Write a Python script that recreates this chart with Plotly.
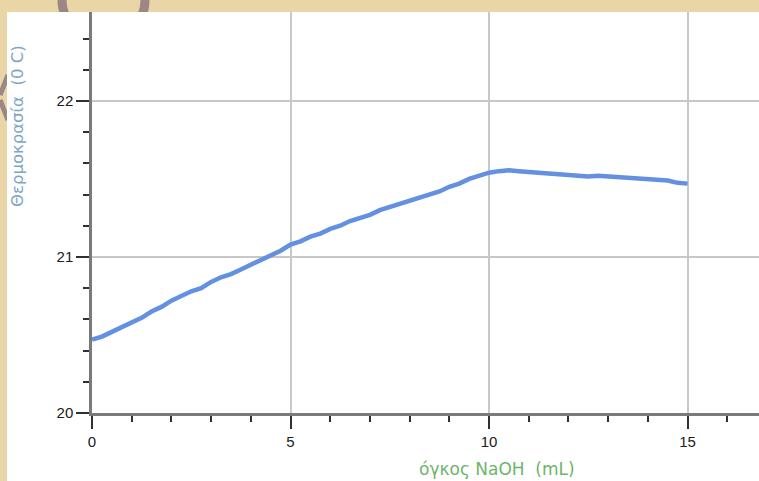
import plotly.graph_objects as go

# Data
volume_ml = [0.00, 0.25, 0.50, 0.75, 1.00, 1.25, 1.50, 1.75, 2.00, 2.25,
             2.50, 2.75, 3.00, 3.25, 3.50, 3.75, 4.00, 4.25, 4.50, 4.75,
             5.00, 5.25, 5.50, 5.75, 6.00, 6.25, 6.50, 6.75, 7.00, 7.25,
             7.50, 7.75, 8.00, 8.25, 8.50, 8.75, 9.00, 9.25, 9.50, 9.75,
             10.00, 10.25, 10.50, 10.75, 11.00, 11.25, 11.50, 11.75, 12.00, 12.25,
             12.50, 12.75, 13.00, 13.25, 13.50, 13.75, 14.00, 14.25, 14.50, 14.75,
             15.00]
temperature_c = [20.47, 20.49, 20.52, 20.55, 20.58, 20.61, 20.65, 20.68, 20.72, 20.75,
                 20.78, 20.80, 20.84, 20.87, 20.89, 20.92, 20.95, 20.98, 21.01, 21.04,
                 21.08, 21.10, 21.13, 21.15, 21.18, 21.20, 21.23, 21.25, 21.27, 21.30,
                 21.32, 21.34, 21.36, 21.38, 21.40, 21.42, 21.45, 21.47, 21.50, 21.52,
                 21.54, 21.55, 21.555, 21.55, 21.545, 21.54, 21.53, 21.525, 21.52, 21.52,
                 21.515, 21.52, 21.515, 21.51, 21.51, 21.505, 21.50, 21.495, 21.49, 21.475,
                 21.47]
x_tick_vals = [0, 5, 10, 15]
y_tick_vals = [20, 21, 22]
x_title = "όγκος NaOH  (mL)"
y_title = "Θερμοκρασία  (0 C)"

W, H = 759, 481
ML, MR, MT, MB = 92, 0, 12, 68
pw, ph = W - ML - MR, H - MT - MB

def px_x(p):
    return (p - ML) / pw

def px_y(p):
    return (H - MB - p) / ph

fig = go.Figure()
fig.add_trace(go.Scatter(
    x=volume_ml, y=temperature_c, mode="lines",
    line=dict(color="#6390e0", width=4.5),
    hoverinfo="skip", showlegend=False,
))

axis_common = dict(
    showline=True, linecolor="#7a7a7a", linewidth=2.5,
    ticks="outside", tickcolor="#303030", tickwidth=2, ticklen=13,
    showgrid=True, gridcolor="#c8c8c8", gridwidth=1.5,
    zeroline=False,
    tickfont=dict(family="Liberation Sans, Arial, sans-serif", size=15, color="#202020"),
)

fig.update_xaxes(range=[0, 16.8], tickvals=x_tick_vals,
                 minor=dict(dtick=1, ticks="outside", ticklen=6, tickwidth=2,
                            tickcolor="#303030", showgrid=False),
                 **axis_common)
fig.update_yaxes(range=[20, 22.57], tickvals=y_tick_vals,
                 minor=dict(dtick=0.2, ticks="outside", ticklen=6, tickwidth=2,
                            tickcolor="#303030", showgrid=False),
                 **axis_common)

shapes = [
    # decorative ring from the parchment background
    dict(type="circle", xref="paper", yref="paper",
         x0=px_x(62), x1=px_x(145), y0=px_y(40), y1=px_y(-40),
         line=dict(color="#9b8784", width=9), layer="below"),
    dict(type="line", xref="paper", yref="paper",
         x0=px_x(0), x1=px_x(8), y0=px_y(95), y1=px_y(75),
         line=dict(color="#9b8784", width=5), layer="below"),
    dict(type="line", xref="paper", yref="paper",
         x0=px_x(0), x1=px_x(8), y0=px_y(100), y1=px_y(120),
         line=dict(color="#9b8784", width=5), layer="below"),
    # white chart panel
    dict(type="rect", xref="paper", yref="paper",
         x0=px_x(7), x1=px_x(W + 5), y0=px_y(H + 5), y1=px_y(12),
         fillcolor="white", line=dict(width=0), layer="below"),
]

annotations = [
    dict(text=y_title, xref="paper", yref="paper",
         x=px_x(18), y=px_y(126), textangle=-90, showarrow=False,
         xanchor="center", yanchor="middle",
         font=dict(family="DejaVu Sans, Verdana, sans-serif", size=16.5, color="#7fa5c6")),
    dict(text=x_title, xref="paper", yref="paper",
         x=px_x(497), y=px_y(469), showarrow=False,
         xanchor="center", yanchor="middle",
         font=dict(family="DejaVu Sans, Verdana, sans-serif", size=17, color="#6db56b")),
]

fig.update_layout(
    width=W, height=H,
    margin=dict(l=ML, r=MR, t=MT, b=MB),
    paper_bgcolor="#ead5a6",
    plot_bgcolor="white",
    shapes=shapes,
    annotations=annotations,
)

fig.write_html("out.html")
